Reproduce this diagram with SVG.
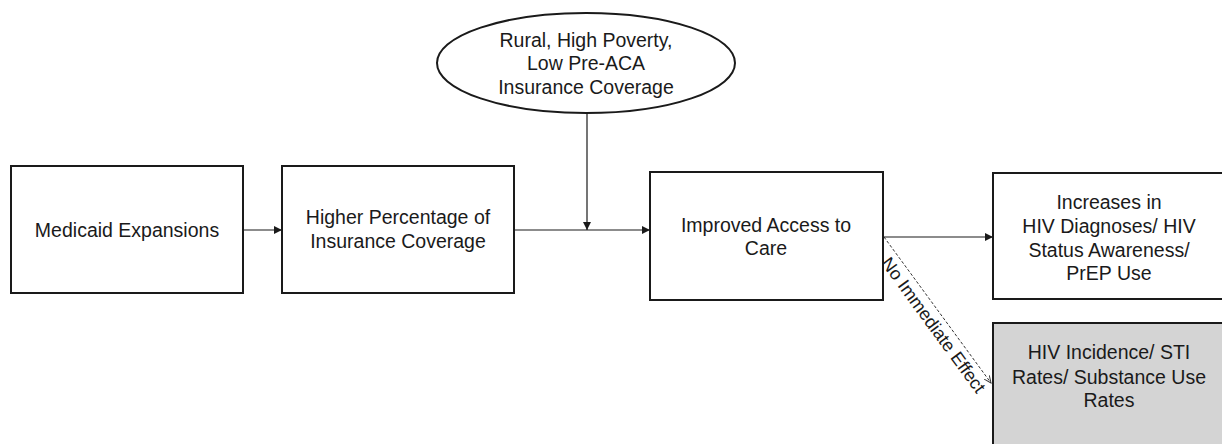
<svg xmlns="http://www.w3.org/2000/svg" width="1222" height="444" viewBox="0 0 1222 444">
  <style>
    .box { fill: #ffffff; stroke: #1a1a1a; stroke-width: 2; }
    .shaded { fill: #d4d4d4; }
    .lbl { font-family: "Liberation Sans", Arial, sans-serif; font-size: 19.5px; fill: #1a1a1a; text-anchor: middle; }
    .edge { stroke: #1a1a1a; stroke-width: 1.2; fill: none; }
    .dash { stroke: #333333; stroke-width: 1; stroke-dasharray: 3 2; fill: none; }
    .elbl { font-family: "Liberation Sans", Arial, sans-serif; font-size: 18px; fill: #1a1a1a; }
  </style>
  <defs>
    <marker id="arrow" viewBox="0 0 10 10" refX="10" refY="5" markerWidth="8" markerHeight="8" markerUnits="userSpaceOnUse" orient="auto">
      <path d="M0,0 L10,5 L0,10 z" fill="#1a1a1a"/>
    </marker>
    <marker id="openArrow" viewBox="0 0 10 10" refX="9" refY="5" markerWidth="8" markerHeight="8" markerUnits="userSpaceOnUse" orient="auto">
      <path d="M0,1 L9,5 L0,9" fill="none" stroke="#333333" stroke-width="1.2"/>
    </marker>
  </defs>
  <rect width="1222" height="444" fill="#ffffff"/>

  <g id="connectors">
    <line class="edge" x1="243" y1="230" x2="282" y2="230" marker-end="url(#arrow)"/>
    <line class="edge" x1="514" y1="230" x2="650" y2="230" marker-end="url(#arrow)"/>
    <line class="edge" x1="587" y1="113" x2="587" y2="230" marker-end="url(#arrow)"/>
    <line class="edge" x1="883" y1="237" x2="993" y2="237" marker-end="url(#arrow)"/>
    <line class="dash" x1="884" y1="237" x2="991" y2="383" marker-end="url(#openArrow)"/>
    <text class="elbl" transform="translate(880.5,263) rotate(53.8)">No Immediate Effect</text>
  </g>

  <g id="medicaid">
    <rect class="box" x="11" y="166" width="232" height="127"/>
    <text class="lbl" x="127" y="237">Medicaid Expansions</text>
  </g>

  <g id="coverage">
    <rect class="box" x="282" y="166" width="232" height="127"/>
    <text class="lbl" x="398" y="224">Higher Percentage of</text>
    <text class="lbl" x="398" y="248">Insurance Coverage</text>
  </g>

  <g id="moderator">
    <ellipse class="box" cx="586" cy="63" rx="149" ry="50"/>
    <text class="lbl" x="586" y="47">Rural, High Poverty,</text>
    <text class="lbl" x="586" y="70">Low Pre-ACA</text>
    <text class="lbl" x="586" y="94">Insurance Coverage</text>
  </g>

  <g id="access">
    <rect class="box" x="650" y="172" width="233" height="128"/>
    <text class="lbl" x="766" y="232">Improved Access to</text>
    <text class="lbl" x="766" y="255">Care</text>
  </g>

  <g id="diagnoses">
    <rect class="box" x="993" y="173" width="232" height="126"/>
    <text class="lbl" x="1109" y="209">Increases in</text>
    <text class="lbl" x="1109" y="233">HIV Diagnoses/ HIV</text>
    <text class="lbl" x="1109" y="257">Status Awareness/</text>
    <text class="lbl" x="1109" y="280">PrEP Use</text>
  </g>

  <g id="incidence">
    <rect class="box shaded" x="993" y="323" width="232" height="130"/>
    <text class="lbl" x="1109" y="359">HIV Incidence/ STI</text>
    <text class="lbl" x="1109" y="384">Rates/ Substance Use</text>
    <text class="lbl" x="1109" y="407">Rates</text>
  </g>
</svg>
